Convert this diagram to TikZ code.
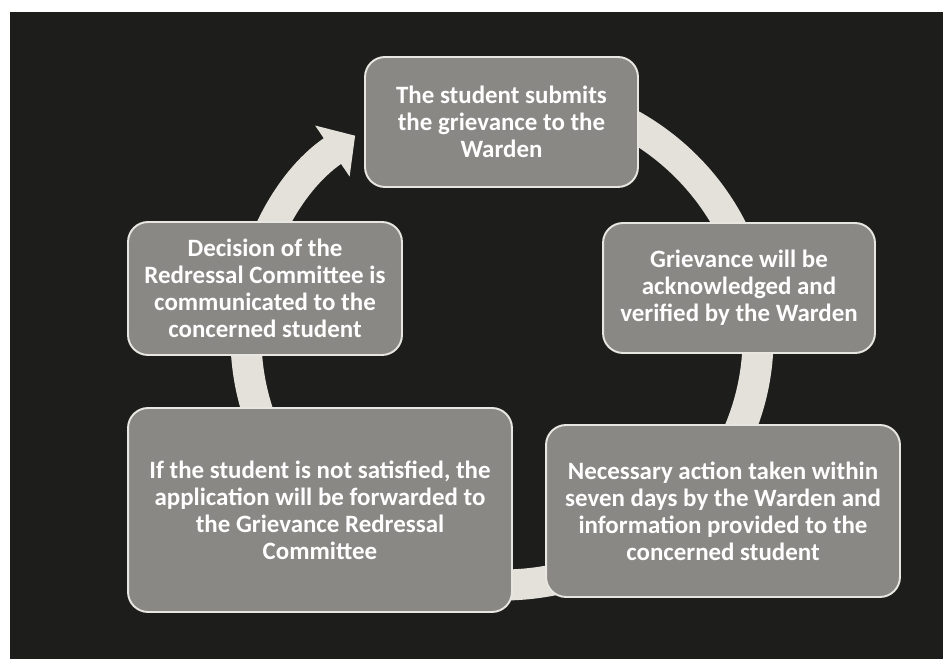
\documentclass[tikz,border=0pt]{standalone}
\usepackage{fontspec}
\setmainfont{Carlito}
\usetikzlibrary{arrows.meta}
\definecolor{nen}{HTML}{1D1E1B}
\definecolor{hop}{HTML}{8A8884}
\definecolor{vien}{HTML}{E8E6E0}
\definecolor{cung}{HTML}{E4E1DA}
\begin{document}
\begin{tikzpicture}[x=0.02cm,y=0.02cm]
\tikzset{s/.style={fill=hop,draw=vien,line width=1.1pt,rounded corners=0.4cm,align=center,text=white,inner sep=0pt,font=\bfseries\fontsize{14.2}{15.4}\selectfont}}
\useasboundingbox(0,0)rectangle(943,659);
\fill[white](0,0)rectangle(943,659);
\fill[nen](10,0)rectangle(943,647);
%%Vong mui ten
\draw[cung,line width=0.62cm,-{Triangle[length=0.55cm,width=1.2cm]}](502,321)++(60:256 and 247)arc[start angle=60,end angle=-235,x radius=256,y radius=247];
\node[s,minimum width=5.46cm,minimum height=2.6cm](T)at(501.5,537){The student submits\\the grievance to the\\Warden};
\node[s,minimum width=5.44cm,minimum height=2.6cm](R1)at(739,371){Grievance will be\\acknowledged and\\verified by the Warden};
\node[s,minimum width=7.08cm,minimum height=3.44cm](R2)at(723,148){Necessary action taken within\\seven days by the Warden and\\information provided to the\\concerned student};
\node[s,minimum width=7.68cm,minimum height=4.08cm](L2)at(320,149){If the student is not satisfied, the\\application will be forwarded to\\the Grievance Redressal\\Committee};
\node[s,minimum width=5.48cm,minimum height=2.66cm](L1)at(265,370.5){Decision of the\\Redressal Committee is\\communicated to the\\concerned student};
\end{tikzpicture}
\end{document}
